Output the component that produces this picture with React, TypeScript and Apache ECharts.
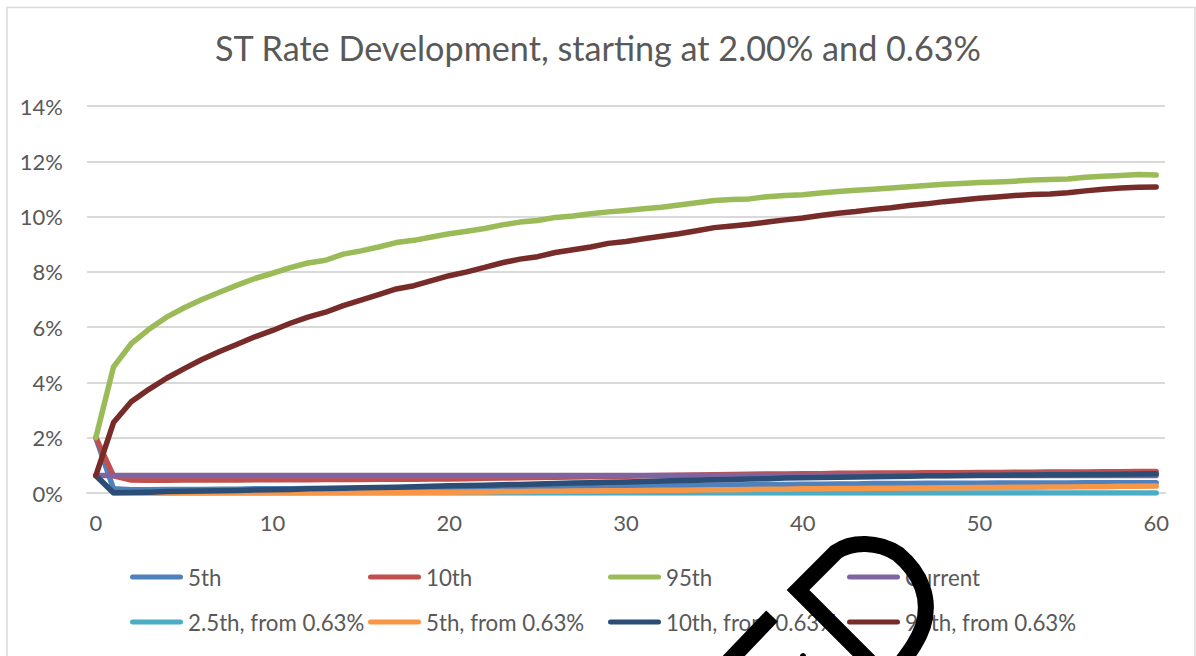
import React, { useEffect, useRef } from "react";
import * as echarts from "echarts";

const categories = [
  0, 1, 2, 3, 4, 5, 6, 7, 8, 9, 10, 11, 12, 13, 14, 15, 16, 17, 18, 19, 20,
  21, 22, 23, 24, 25, 26, 27, 28, 29, 30, 31, 32, 33, 34, 35, 36, 37, 38, 39, 40,
  41, 42, 43, 44, 45, 46, 47, 48, 49, 50, 51, 52, 53, 54, 55, 56, 57, 58, 59, 60,
];

const p5 = [
  2.0, 0.15, 0.12, 0.12, 0.13, 0.13, 0.13, 0.14, 0.14, 0.15, 0.15, 0.15, 0.16, 0.16, 0.17, 0.17, 0.18, 0.18, 0.19, 0.2,
  0.21, 0.21, 0.22, 0.22, 0.23, 0.23, 0.24, 0.24, 0.25, 0.25, 0.26, 0.26, 0.27, 0.27, 0.28, 0.29, 0.29, 0.3, 0.31, 0.31,
  0.32, 0.32, 0.33, 0.33, 0.34, 0.34, 0.34, 0.35, 0.35, 0.35, 0.35, 0.36, 0.36, 0.36, 0.36, 0.36, 0.37, 0.37, 0.37, 0.37, 0.37,
];

const p10 = [
  2.0, 0.62, 0.47, 0.46, 0.46, 0.47, 0.47, 0.47, 0.47, 0.48, 0.48, 0.48, 0.48, 0.49, 0.49, 0.49, 0.5, 0.5, 0.5, 0.51,
  0.51, 0.52, 0.53, 0.54, 0.55, 0.56, 0.57, 0.58, 0.59, 0.6, 0.61, 0.62, 0.63, 0.64, 0.65, 0.66, 0.67, 0.68, 0.69, 0.69,
  0.7, 0.7, 0.71, 0.71, 0.72, 0.72, 0.72, 0.73, 0.73, 0.73, 0.74, 0.74, 0.75, 0.75, 0.76, 0.76, 0.76, 0.77, 0.77, 0.78, 0.78,
];

const p95 = [
  2.0, 4.56, 5.4, 5.92, 6.36, 6.7, 7.0, 7.26, 7.52, 7.76, 7.95, 8.15, 8.32, 8.42, 8.64, 8.76, 8.9, 9.06, 9.14, 9.26,
  9.38, 9.47, 9.57, 9.7, 9.8, 9.86, 9.97, 10.02, 10.1, 10.17, 10.22, 10.28, 10.34, 10.42, 10.5, 10.58, 10.62, 10.64, 10.72, 10.76,
  10.79, 10.85, 10.91, 10.95, 10.99, 11.03, 11.08, 11.12, 11.17, 11.2, 11.23, 11.25, 11.28, 11.32, 11.34, 11.36, 11.42, 11.46, 11.49, 11.52, 11.5,
];

const current = [
  0.63, 0.63, 0.63, 0.63, 0.63, 0.63, 0.63, 0.63, 0.63, 0.63, 0.63, 0.63, 0.63, 0.63, 0.63, 0.63, 0.63, 0.63, 0.63, 0.63,
  0.63, 0.63, 0.63, 0.63, 0.63, 0.63, 0.63, 0.63, 0.63, 0.63, 0.63, 0.63, 0.63, 0.63, 0.63, 0.63, 0.63, 0.63, 0.63, 0.63,
  0.63, 0.63, 0.63, 0.63, 0.63, 0.63, 0.63, 0.63, 0.63, 0.63, 0.63, 0.63, 0.63, 0.63, 0.63, 0.63, 0.63, 0.63, 0.63, 0.63, 0.63,
];

const p2_5from = [
  0.63, 0.0, 0.0, 0.0, 0.0, 0.0, 0.0, 0.0, 0.0, 0.0, 0.0, 0.0, 0.0, 0.0, 0.0, 0.0, 0.0, 0.0, 0.0, 0.0,
  0.0, 0.0, 0.0, 0.0, 0.0, 0.0, 0.0, 0.0, 0.0, 0.0, 0.0, 0.0, 0.0, 0.0, 0.0, 0.0, 0.0, 0.0, 0.0, 0.0,
  0.0, 0.0, 0.0, 0.0, 0.0, 0.0, 0.0, 0.0, 0.0, 0.0, 0.0, 0.0, 0.0, 0.0, 0.0, 0.0, 0.0, 0.0, 0.0, 0.0, 0.0,
];

const p5from = [
  0.63, 0.0, 0.0, 0.0, 0.0, 0.0, 0.0, 0.01, 0.01, 0.01, 0.01, 0.01, 0.01, 0.02, 0.02, 0.02, 0.02, 0.02, 0.03, 0.03,
  0.03, 0.04, 0.04, 0.05, 0.05, 0.06, 0.06, 0.07, 0.07, 0.08, 0.08, 0.09, 0.1, 0.1, 0.11, 0.12, 0.12, 0.13, 0.14, 0.14,
  0.15, 0.15, 0.16, 0.16, 0.17, 0.17, 0.18, 0.18, 0.19, 0.19, 0.2, 0.2, 0.21, 0.21, 0.22, 0.22, 0.23, 0.23, 0.24, 0.24, 0.25,
];

const p10from = [
  0.63, 0.01, 0.02, 0.03, 0.05, 0.06, 0.07, 0.08, 0.09, 0.11, 0.12, 0.13, 0.15, 0.16, 0.17, 0.19, 0.2, 0.21, 0.23, 0.24,
  0.26, 0.27, 0.28, 0.3, 0.31, 0.33, 0.34, 0.36, 0.37, 0.39, 0.4, 0.42, 0.43, 0.45, 0.46, 0.48, 0.49, 0.51, 0.52, 0.54,
  0.55, 0.56, 0.57, 0.58, 0.59, 0.6, 0.61, 0.62, 0.62, 0.63, 0.64, 0.64, 0.65, 0.65, 0.66, 0.66, 0.67, 0.67, 0.68, 0.69, 0.7,
];

const p95from = [
  0.63, 2.55, 3.3, 3.75, 4.15, 4.5, 4.83, 5.12, 5.38, 5.65, 5.88, 6.14, 6.36, 6.54, 6.78, 6.98, 7.18, 7.38, 7.5, 7.68,
  7.86, 8.0, 8.16, 8.33, 8.46, 8.55, 8.7, 8.8, 8.9, 9.03, 9.1, 9.2, 9.29, 9.38, 9.49, 9.6, 9.66, 9.72, 9.8, 9.88,
  9.95, 10.04, 10.12, 10.18, 10.26, 10.32, 10.4, 10.46, 10.54, 10.6, 10.66, 10.71, 10.76, 10.8, 10.82, 10.86, 10.93, 10.99, 11.03, 11.06, 11.07,
];

const seriesNames = [
  "5th",
  "10th",
  "95th",
  "Current",
  "2.5th, from 0.63%",
  "5th, from 0.63%",
  "10th, from 0.63%",
  "95th, from 0.63%",
];
const seriesData = [p5, p10, p95, current, p2_5from, p5from, p10from, p95from];
const seriesColors = [
  "#4F81BD",
  "#C0504D",
  "#9BBB59",
  "#8064A2",
  "#4BACC6",
  "#F79646",
  "#2C4D75",
  "#772C2A",
];

const titleText = "ST Rate Development, starting at 2.00% and 0.63%";

const FONT = "Lato";
const TEXT = "#595959";

const scribblePath =
  "M 880 672 L 798 590 L 836 552 C 852 541 878 541 898 554 C 922 574 931 600 923 626 C 917 644 906 656 896 670";
const strokePath = "M 772 616 L 728 662";

export default function App() {
  const ref = useRef<HTMLDivElement>(null);
  useEffect(() => {
    if (!ref.current) return;
    echarts.graphic.registerShape("scribble", echarts.graphic.extendPath(scribblePath, {}));
    echarts.graphic.registerShape("scribble2", echarts.graphic.extendPath(strokePath, {}));
    const chart = echarts.init(ref.current, null, { renderer: "svg" });

    const colX = [130, 368, 608, 847];
    const rowY = [566, 611];
    const legends = seriesNames.map((name, i) => ({
      data: [name],
      left: colX[i % 4],
      top: rowY[Math.floor(i / 4)],
      padding: 0,
      itemWidth: 53,
      itemHeight: 5,
      icon: "path://M2.5,0 L50.5,0 A2.5,2.5 0 0 1 50.5,5 L2.5,5 A2.5,2.5 0 0 1 2.5,0 Z",
      textStyle: { fontFamily: FONT, fontSize: 22.3, color: TEXT, padding: [0, 0, 0, 0] },
      selectedMode: false,
    }));

    chart.setOption({
      animation: false,
      backgroundColor: "#ffffff",
      title: {
        text: titleText,
        left: "center",
        top: 30,
        padding: 0,
        textStyle: { fontFamily: FONT, fontSize: 34.2, fontWeight: "normal", color: TEXT },
      },
      legend: legends,
      grid: { left: 87, right: 31, top: 106, bottom: 163, containLabel: false },
      xAxis: {
        type: "category",
        data: categories,
        boundaryGap: true,
        axisLine: { show: true, lineStyle: { color: "#D9D9D9", width: 2 } },
        axisTick: { show: false },
        axisLabel: { interval: 9, fontFamily: FONT, fontSize: 22, color: TEXT, margin: 18 },
        splitLine: { show: false },
      },
      yAxis: {
        type: "value",
        min: 0,
        max: 14,
        interval: 2,
        axisLine: { show: false },
        axisTick: { show: false },
        axisLabel: { formatter: "{value}%", fontFamily: FONT, fontSize: 22, color: TEXT, margin: 24 },
        splitLine: { lineStyle: { color: "#D9D9D9", width: 2 } },
      },
      series: seriesNames.map((name, i) => ({
        name,
        type: "line",
        data: seriesData[i],
        showSymbol: false,
        symbol: "none",
        color: seriesColors[i],
        lineStyle: { width: 5.5, color: seriesColors[i], cap: "round", join: "round" },
        z: 2 + i * 0.01,
      })),
      graphic: [
        {
          type: "rect",
          shape: { x: 7, y: 7.5, width: 1188, height: 700 },
          style: { fill: "none", stroke: "#D9D9D9", lineWidth: 1.5 },
          silent: true,
          z: 0,
        },
        {
          type: "scribble",
          x: 0,
          y: 0,
          style: { fill: null, stroke: "#000000", lineWidth: 16, lineJoin: "miter", lineCap: "butt" },
          silent: true,
          z: 100,
        },
        {
          type: "scribble2",
          x: 0,
          y: 0,
          style: { fill: null, stroke: "#000000", lineWidth: 16, lineCap: "butt" },
          silent: true,
          z: 100,
        },
        {
          type: "circle",
          shape: { cx: 803, cy: 656, r: 3 },
          style: { fill: "#000000" },
          silent: true,
          z: 100,
        },
      ],
    });
    return () => chart.dispose();
  }, []);
  return (
    <div
      ref={ref}
      style={{ position: "fixed", left: 0, top: 0, width: 1196, height: 656 }}
    />
  );
}
